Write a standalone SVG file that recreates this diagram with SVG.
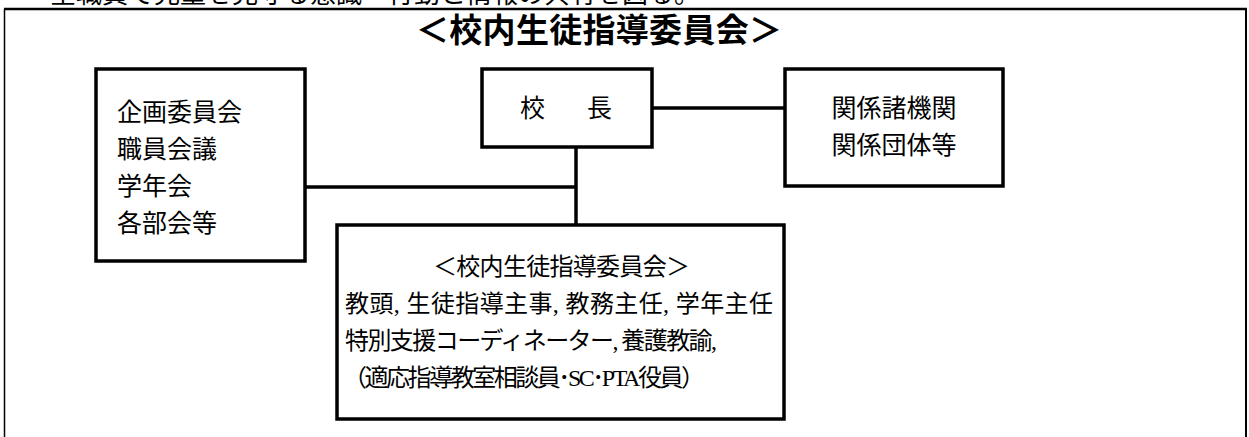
<svg xmlns="http://www.w3.org/2000/svg" width="1249" height="437" viewBox="0 0 1249 437">
<style>
.box{fill:#fff;stroke:#000;stroke-width:3.5}
.ln{stroke:#000;stroke-width:3.5;fill:none}
.t{font-family:"Liberation Serif","Noto Sans CJK JP",serif;font-size:25px;fill:#000}
.c{font-family:"Liberation Serif","Noto Sans CJK JP",serif;font-size:24px;fill:#000}
.title{font-family:"Noto Sans CJK JP",sans-serif;font-weight:bold;font-size:33px;fill:#000}
.top{font-family:"Noto Sans CJK JP",sans-serif;font-size:26px;fill:#000}
</style>
<rect width="1249" height="437" fill="#fff"/>
<text class="top" x="50" y="3">全職員で児童を見守る意識・行動と情報の共有を図る。</text>
<g id="frame">
<line x1="4" y1="9" x2="1247" y2="9" stroke="#000" stroke-width="2.5"/>
<line x1="4.5" y1="9" x2="4.5" y2="437" stroke="#000" stroke-width="1.5"/>
<line x1="1246" y1="9" x2="1246" y2="437" stroke="#000" stroke-width="2"/>
</g>
<text class="title" x="416" y="42" textLength="366" lengthAdjust="spacing">＜校内生徒指導委員会＞</text>
<g id="connectors">
<line class="ln" x1="305" y1="187" x2="576" y2="187"/>
<line class="ln" x1="576" y1="147" x2="576" y2="225"/>
<line class="ln" x1="652" y1="108" x2="785" y2="108"/>
</g>
<g id="node-kikaku">
<rect class="box" x="96" y="69" width="209" height="192"/>
<text class="t" x="117" y="121">企画委員会</text>
<text class="t" x="117" y="158">職員会議</text>
<text class="t" x="117" y="195">学年会</text>
<text class="t" x="117" y="232">各部会等</text>
</g>
<g id="node-kocho">
<rect class="box" x="482" y="69" width="170" height="78"/>
<text class="t" x="520" y="117" textLength="92" lengthAdjust="spacing">校　長</text>
</g>
<g id="node-kankei">
<rect class="box" x="785" y="69" width="218" height="117"/>
<text class="t" x="894" y="117" text-anchor="middle">関係諸機関</text>
<text class="t" x="894" y="154" text-anchor="middle">関係団体等</text>
</g>
<g id="node-iinkai">
<rect class="box" x="337" y="225" width="447" height="194"/>
<text class="c" x="433" y="275" textLength="257" lengthAdjust="spacing">＜校内生徒指導委員会＞</text>
<text class="c" x="345" y="312" textLength="428" lengthAdjust="spacing">教頭, 生徒指導主事, 教務主任, 学年主任</text>
<text class="c" x="345" y="349" textLength="372" lengthAdjust="spacing">特別支援コーディネーター, 養護教諭,</text>
<text class="c" x="343" y="386" textLength="362" lengthAdjust="spacing">（適応指導教室相談員･SC･PTA役員）</text>
</g>
</svg>
